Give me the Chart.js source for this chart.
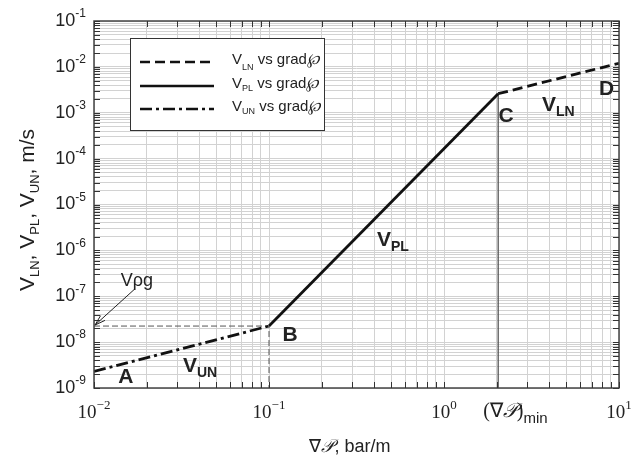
<!DOCTYPE html>
<html>
<head>
<meta charset="utf-8">
<script src="https://cdn.jsdelivr.net/npm/chart.js@4.4.1/dist/chart.umd.min.js"></script>
<style>
  body { margin: 0; background: #fff; }
  #wrap { width: 632px; height: 468px; }
</style>
</head>
<body>
<div id="wrap"><canvas id="myChart" width="632" height="468"></canvas></div>
<script>
// values
const unX = [0.01, 0.1];
const unY = [2.3e-9, 2.24e-8];
const plX = [0.1, 2.04];
const plY = [2.24e-8, 2.6e-3];
const lnX = [2.04, 10];
const lnY = [2.6e-3, 1.2e-2];
const vRhoG = 2.24e-8;
const gradMin = 2.04;

const xDecades = [-2, -1, 0, 1];
const yDecades = [-9, -8, -7, -6, -5, -4, -3, -2, -1];

// label anchors (data coords)
const pointLabels = [
  {x: 0.0152, y: 1.74e-9, t: "A"},
  {x: 0.132, y: 1.43e-8, t: "B"},
  {x: 2.26, y: 8.5e-4, t: "C"},
  {x: 8.5, y: 3.2e-3, t: "D"}
];
const curveLabels = [
  {x: 0.0358, y: 3.0e-9, sub: "UN"},
  {x: 0.46, y: 1.66e-6, sub: "PL"},
  {x: 4.03, y: 1.47e-3, sub: "LN"}
];
const arrowFrom = {x: 0.0171, y: 1.44e-7};

const toPts = (xs, ys) => xs.map((x, i) => ({x: x, y: ys[i]}));

function gridValues(decs) {
  let out = [];
  decs.forEach((d, k) => {
    for (let m = 1; m <= 9; m++) {
      if (k === decs.length - 1 && m > 1) break;
      out.push({value: m * Math.pow(10, d)});
    }
  });
  return out;
}

const SANS = "'Liberation Sans', Arial, sans-serif";
const SERIF = "'Liberation Serif', 'Times New Roman', serif";

// draw a row of text pieces, pieces = [{t, font, dy}]
function drawParts(ctx, parts, x, y, align) {
  let w = 0;
  parts.forEach(p => { ctx.font = p.font; w += ctx.measureText(p.t).width; });
  let cx = align === "center" ? x - w / 2 : (align === "right" ? x - w : x);
  ctx.textAlign = "left";
  parts.forEach(p => {
    ctx.font = p.font;
    ctx.fillText(p.t, cx, y + (p.dy || 0));
    cx += ctx.measureText(p.t).width;
  });
}

const decor = {
  id: "decor",
  afterDraw(chart) {
    const ctx = chart.ctx;
    const a = chart.chartArea;
    const xs = chart.scales.x, ys = chart.scales.y;
    ctx.save();

    // frame
    ctx.strokeStyle = "#444";
    ctx.lineWidth = 1.5;
    ctx.strokeRect(a.left, a.top, a.right - a.left, a.bottom - a.top);

    // inward ticks
    ctx.lineWidth = 1;
    ctx.strokeStyle = "#333";
    gridValues(xDecades).forEach(t => {
      const px = Math.round(xs.getPixelForValue(t.value)) + 0.5;
      ctx.beginPath();
      ctx.moveTo(px, a.bottom); ctx.lineTo(px, a.bottom - 6);
      ctx.moveTo(px, a.top); ctx.lineTo(px, a.top + 6);
      ctx.stroke();
    });
    gridValues(yDecades).forEach(t => {
      const py = Math.round(ys.getPixelForValue(t.value)) + 0.5;
      ctx.beginPath();
      ctx.moveTo(a.left, py); ctx.lineTo(a.left + 6, py);
      ctx.moveTo(a.right, py); ctx.lineTo(a.right - 6, py);
      ctx.stroke();
    });

    ctx.fillStyle = "#222";
    ctx.textBaseline = "middle";

    // y tick labels
    yDecades.forEach(d => {
      const py = ys.getPixelForValue(Math.pow(10, d));
      drawParts(ctx, [
        {t: "10", font: "18px " + SANS},
        {t: "-" + (-d), font: "12px " + SANS, dy: -7}
      ], 86, py, "right");
    });

    // x tick labels
    xDecades.forEach(d => {
      const px = xs.getPixelForValue(Math.pow(10, d));
      drawParts(ctx, [
        {t: "10", font: "19px " + SERIF},
        {t: d < 0 ? "\u2212" + (-d) : "" + d, font: "13px " + SERIF, dy: -7}
      ], px, 413, "center");
    });
    const gx = xs.getPixelForValue(gradMin);
    drawParts(ctx, [
      {t: "(\u2207", font: "20px " + SERIF},
      {t: "\uD835\uDCAB", font: "italic 20px " + SERIF},
      {t: ")", font: "20px " + SERIF},
      {t: "min", font: "15px " + SANS, dy: 7}
    ], gx - 15, 412, "left");

    // axis titles
    drawParts(ctx, [
      {t: "\u2207", font: "18px " + SERIF},
      {t: "\uD835\uDCAB", font: "italic 18px " + SERIF},
      {t: ", bar/m", font: "18px " + SANS}
    ], 350, 447, "center");

    ctx.save();
    ctx.translate(28, 210);
    ctx.rotate(-Math.PI / 2);
    const big = "21px " + SANS, small = "13px " + SANS;
    drawParts(ctx, [
      {t: "V", font: big}, {t: "LN", font: small, dy: 7},
      {t: ", V", font: big}, {t: "PL", font: small, dy: 7},
      {t: ", V", font: big}, {t: "UN", font: small, dy: 7},
      {t: ", m/s", font: big}
    ], 0, 0, "center");
    ctx.restore();

    // point letters
    pointLabels.forEach(p => {
      drawParts(ctx, [{t: p.t, font: "bold 21px " + SANS}],
        xs.getPixelForValue(p.x), ys.getPixelForValue(p.y), "center");
    });
    curveLabels.forEach(p => {
      drawParts(ctx, [
        {t: "V", font: "bold 21px " + SANS},
        {t: p.sub, font: "bold 14px " + SANS, dy: 7}
      ], xs.getPixelForValue(p.x) - 8, ys.getPixelForValue(p.y), "left");
    });

    // V rho g with arrow
    const ax0 = xs.getPixelForValue(arrowFrom.x), ay0 = ys.getPixelForValue(arrowFrom.y);
    const ax1 = xs.getPixelForValue(0.01) + 1, ay1 = ys.getPixelForValue(vRhoG) - 1;
    ctx.strokeStyle = "#222";
    ctx.lineWidth = 1;
    ctx.beginPath(); ctx.moveTo(ax0, ay0); ctx.lineTo(ax1, ay1); ctx.stroke();
    const ang = Math.atan2(ay1 - ay0, ax1 - ax0);
    ctx.beginPath();
    ctx.moveTo(ax1 - 11 * Math.cos(ang - 0.3), ay1 - 11 * Math.sin(ang - 0.3));
    ctx.lineTo(ax1, ay1);
    ctx.lineTo(ax1 - 11 * Math.cos(ang + 0.3), ay1 - 11 * Math.sin(ang + 0.3));
    ctx.stroke();
    drawParts(ctx, [{t: "V\u03C1g", font: "18px " + SANS}], ax0 - 14, ay0 - 8, "left");

    // legend
    const lx = 130, ly = 38, lw = 194, lh = 92;
    ctx.fillStyle = "#fff";
    ctx.fillRect(lx, ly, lw, lh);
    ctx.strokeStyle = "#333";
    ctx.lineWidth = 1;
    ctx.strokeRect(lx + 0.5, ly + 0.5, lw, lh);
    const rows = [
      {sub: "LN", dash: [10, 5], y: 62},
      {sub: "PL", dash: [], y: 86},
      {sub: "UN", dash: [12, 4, 3, 4], y: 109}
    ];
    rows.forEach(r => {
      ctx.strokeStyle = "#111";
      ctx.lineWidth = 2.5;
      ctx.setLineDash(r.dash);
      ctx.beginPath(); ctx.moveTo(140, r.y); ctx.lineTo(214, r.y); ctx.stroke();
      ctx.setLineDash([]);
      ctx.fillStyle = "#222";
      drawParts(ctx, [
        {t: "V", font: "15px " + SANS},
        {t: r.sub, font: "9px " + SANS, dy: r.sub === "LN" ? 8 : 5},
        {t: " vs grad", font: "15px " + SANS},
        {t: "\u2118", font: "italic 15px " + SERIF}
      ], 232, r.y - 2, "left");
    });

    ctx.restore();
  }
};

const ctx = document.getElementById("myChart").getContext("2d");
const chart = new Chart(ctx, {
  type: "scatter",
  data: {
    datasets: [
      {label: "V_LN vs grad", data: toPts(lnX, lnY), borderColor: "#111", borderWidth: 2.8, borderDash: [10, 5]},
      {label: "V_PL vs grad", data: toPts(plX, plY), borderColor: "#111", borderWidth: 2.8},
      {label: "V_UN vs grad", data: toPts(unX, unY), borderColor: "#111", borderWidth: 2.8, borderDash: [12, 4, 3, 4]},
      {label: "Vpg", data: toPts([0.01, 0.1, 0.1], [vRhoG, vRhoG, 1e-9]), borderColor: "#555", borderWidth: 1, borderDash: [6, 3]},
      {label: "min", data: toPts([gradMin, gradMin], [plY[1], 1e-9]), borderColor: "#555", borderWidth: 1.3}
    ].map(d => Object.assign({showLine: true, pointRadius: 0, fill: false, tension: 0}, d))
  },
  options: {
    responsive: false,
    animation: false,
    layout: {padding: {left: 94, top: 21, right: 13, bottom: 80}},
    plugins: {legend: {display: false}, tooltip: {enabled: false}},
    scales: {
      x: {
        type: "logarithmic", min: 0.01, max: 10,
        afterBuildTicks: axis => { axis.ticks = gridValues(xDecades); },
        ticks: {display: false},
        grid: {drawTicks: false, color: "#d2d2d2", lineWidth: 1},
        border: {display: false}
      },
      y: {
        type: "logarithmic", min: 1e-9, max: 0.1,
        afterBuildTicks: axis => { axis.ticks = gridValues(yDecades); },
        ticks: {display: false},
        grid: {drawTicks: false, color: "#d2d2d2", lineWidth: 1},
        border: {display: false}
      }
    }
  },
  plugins: [decor]
});
</script>
</body>
</html>
